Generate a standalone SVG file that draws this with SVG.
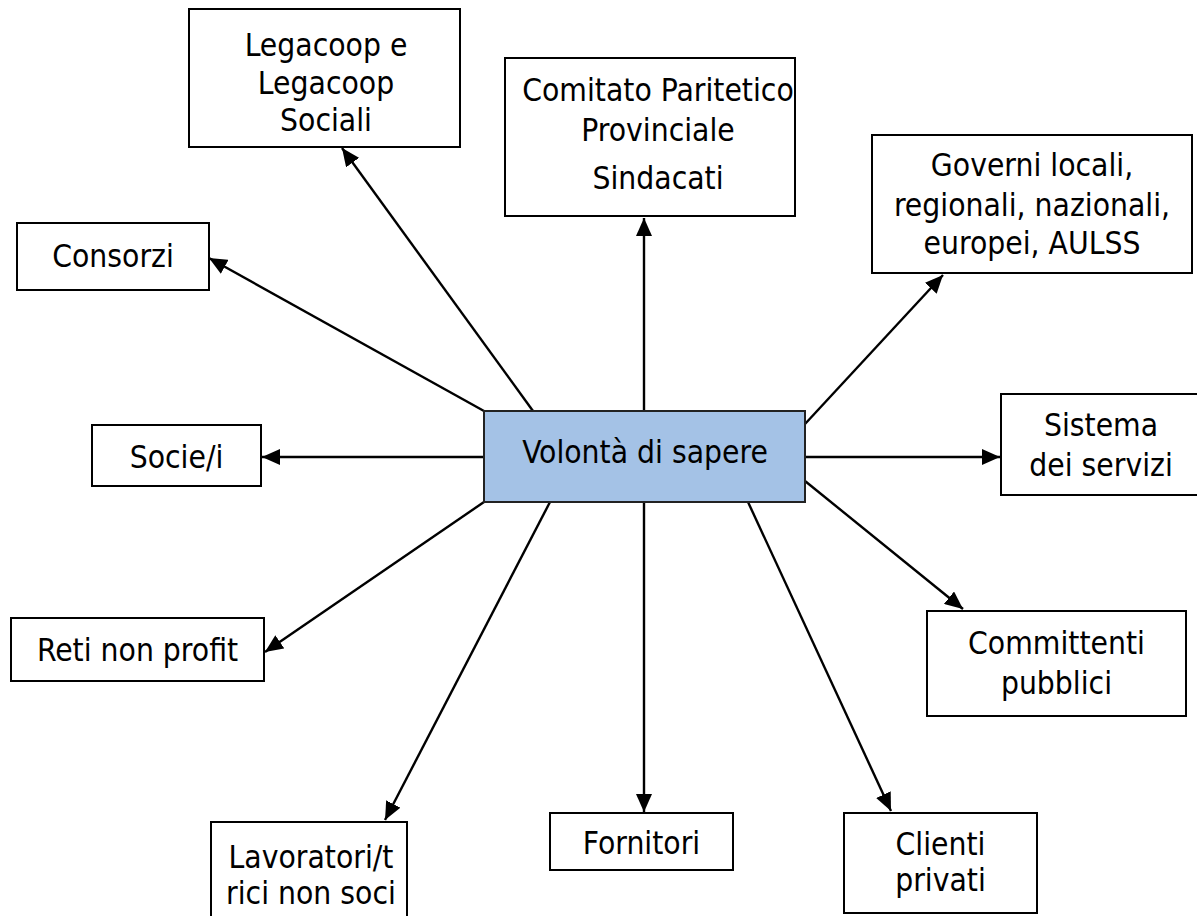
<svg xmlns="http://www.w3.org/2000/svg" width="1197" height="916" viewBox="0 0 1197 916">
<style>
.box{fill:#fff;stroke:#000;stroke-width:2}
.center{fill:#a4c2e6;stroke:#222;stroke-width:2}
text{font-family:"DejaVu Sans Condensed","DejaVu Sans",sans-serif;font-stretch:condensed;font-size:31.5px;fill:#000;text-anchor:middle}
.conn line{stroke:#000;stroke-width:2.4;marker-end:url(#arr)}
</style>
<defs>
<marker id="arr" markerUnits="userSpaceOnUse" markerWidth="20" markerHeight="16" refX="18" refY="8" orient="auto">
<path d="M0,0 L18,8 L0,16 Z" fill="#000"/>
</marker>
</defs>
<rect width="1197" height="916" fill="#fff"/>
<g class="conn">
<line x1="533" y1="411" x2="342" y2="148"/>
<line x1="644" y1="411" x2="644" y2="218"/>
<line x1="805" y1="424" x2="943" y2="275"/>
<line x1="484" y1="411" x2="209" y2="258"/>
<line x1="484" y1="457" x2="262" y2="457"/>
<line x1="484" y1="502" x2="265" y2="652"/>
<line x1="550" y1="502" x2="385" y2="820"/>
<line x1="644" y1="502" x2="644" y2="812"/>
<line x1="748" y1="502" x2="891" y2="811"/>
<line x1="805" y1="481" x2="963" y2="609"/>
<line x1="805" y1="457" x2="1000" y2="457"/>
</g>
<g id="n-center"><rect class="center" x="484" y="411" width="321" height="91"/><text x="645" y="463">Volontà di sapere</text></g>
<g id="n-legacoop"><rect class="box" x="189" y="9" width="271" height="138"/><text x="326" y="56">Legacoop e</text><text x="326" y="94">Legacoop</text><text x="326" y="131">Sociali</text></g>
<g id="n-comitato"><rect class="box" x="505" y="58" width="290" height="158"/><text x="658" y="101">Comitato Paritetico</text><text x="658" y="141">Provinciale</text><text x="658" y="189">Sindacati</text></g>
<g id="n-governi"><rect class="box" x="872" y="135" width="320" height="138"/><text x="1032" y="176">Governi locali,</text><text x="1032" y="216">regionali, nazionali,</text><text x="1032" y="254">europei, AULSS</text></g>
<g id="n-consorzi"><rect class="box" x="17" y="223" width="192" height="67"/><text x="113" y="267">Consorzi</text></g>
<g id="n-socie"><rect class="box" x="92" y="425" width="169" height="61"/><text x="176.5" y="468">Socie/i</text></g>
<g id="n-sistema"><rect class="box" x="1001" y="394" width="200" height="101"/><text x="1101" y="436">Sistema</text><text x="1101" y="476">dei servizi</text></g>
<g id="n-reti"><rect class="box" x="11" y="618" width="253" height="63"/><text x="137.5" y="661">Reti non profit</text></g>
<g id="n-committenti"><rect class="box" x="927" y="611" width="259" height="105"/><text x="1056.5" y="654">Committenti</text><text x="1056.5" y="694">pubblici</text></g>
<g id="n-lavoratori"><rect class="box" x="211" y="822" width="196" height="100"/><text x="311" y="868">Lavoratori/t</text><text x="311" y="904">rici non soci</text></g>
<g id="n-fornitori"><rect class="box" x="550" y="813" width="183" height="57"/><text x="641.5" y="854">Fornitori</text></g>
<g id="n-clienti"><rect class="box" x="844" y="813" width="193" height="100"/><text x="940.5" y="855">Clienti</text><text x="940.5" y="891">privati</text></g>
</svg>
